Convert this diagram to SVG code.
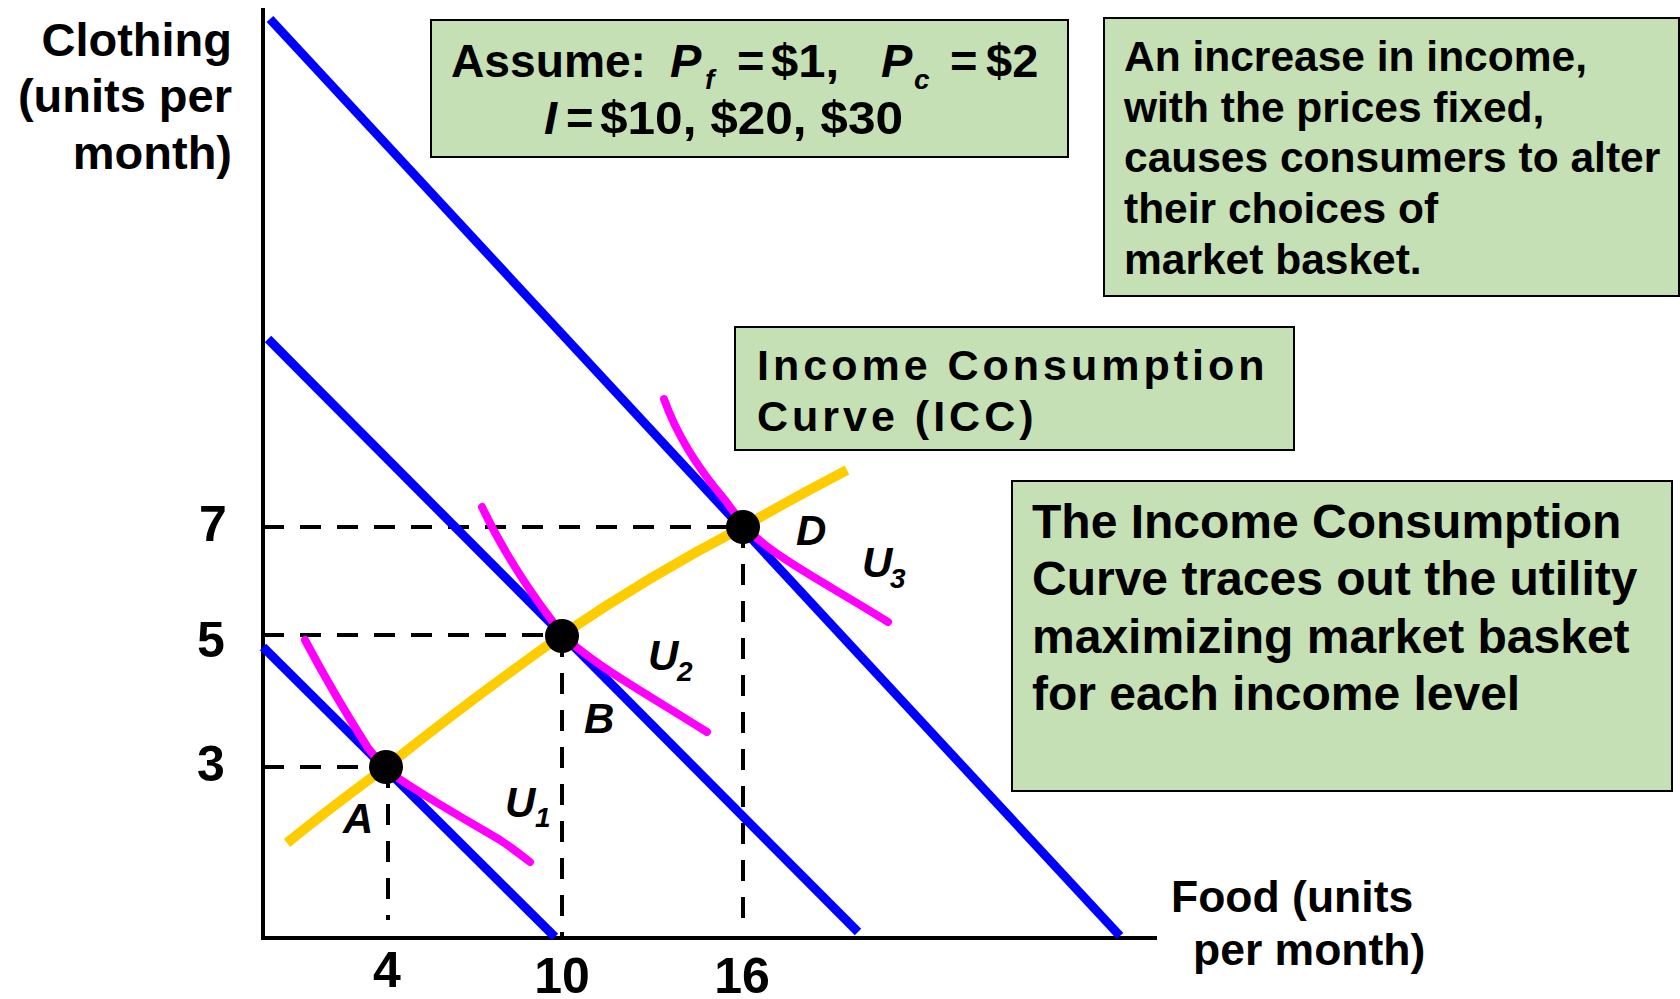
<svg xmlns="http://www.w3.org/2000/svg" width="1680" height="999" viewBox="0 0 1680 999">
<style>
text{font-family:"Liberation Sans",Arial,sans-serif;font-weight:bold;fill:#000}
.box{fill:#C5E0B4;stroke:#000;stroke-width:2}
.axis{stroke:#000;stroke-width:4;fill:none}
.dash{stroke:#000;stroke-width:4;stroke-dasharray:21 16;fill:none}
.budget{stroke:#0000FF;stroke-width:9;fill:none}
.icc{stroke:#FFCC00;stroke-width:10;fill:none;stroke-linecap:butt}
.indiff{stroke:#FF00FF;stroke-width:8;fill:none;stroke-linecap:round;stroke-linejoin:round}
.pt{fill:#000}
.it{font-style:italic}
.ax{font-size:47px}
.tick{font-size:50px}
.lbl{font-size:42px;font-style:italic}
.sub{font-size:28px;font-style:italic}
</style>

<g id="assume-box">
<rect class="box" x="431" y="20" width="637" height="137"/>
<text x="451" y="77" font-size="47" textLength="195" lengthAdjust="spacingAndGlyphs">Assume:</text>
<text x="670" y="77" font-size="47" class="it">P</text>
<text x="705" y="89" font-size="28" class="it">f</text>
<text x="737" y="77" font-size="47">=</text>
<text x="771" y="77" font-size="47" textLength="68" lengthAdjust="spacingAndGlyphs">$1,</text>
<text x="881" y="77" font-size="47" class="it">P</text>
<text x="914" y="89" font-size="28" class="it">c</text>
<text x="950" y="77" font-size="47">=</text>
<text x="986" y="77" font-size="47">$2</text>
<text x="544" y="134" font-size="47" class="it">I</text>
<text x="566" y="134" font-size="47">=</text>
<text x="600" y="134" font-size="47" textLength="303" lengthAdjust="spacingAndGlyphs">$10, $20, $30</text>
</g>

<g id="income-box">
<rect class="box" x="1104" y="18" width="575" height="278"/>
<text font-size="42.5"><tspan x="1124" y="71">An increase in income,</tspan><tspan x="1124" y="122">with the prices fixed,</tspan><tspan x="1124" y="172">causes consumers to alter</tspan><tspan x="1124" y="223">their choices of</tspan><tspan x="1124" y="274">market basket.</tspan></text>
</g>

<g id="icc-box">
<rect class="box" x="735" y="327" width="559" height="123"/>
<text font-size="43" letter-spacing="4"><tspan x="757" y="380">Income Consumption</tspan><tspan x="757" y="431">Curve (ICC)</tspan></text>
</g>

<g id="trace-box">
<rect class="box" x="1012" y="481" width="660" height="310"/>
<text font-size="48"><tspan x="1032" y="538">The Income Consumption</tspan><tspan x="1032" y="595">Curve traces out the utility</tspan><tspan x="1032" y="653">maximizing market basket</tspan><tspan x="1032" y="710">for each income level</tspan></text>
</g>

<g id="axes">
<line class="axis" x1="263" y1="8" x2="263" y2="940"/>
<line class="axis" x1="261" y1="938" x2="1157" y2="938"/>
<text class="ax" text-anchor="end"><tspan x="232" y="56">Clothing</tspan><tspan x="232" y="112">(units per</tspan><tspan x="232" y="169">month)</tspan></text>
<text style="font-size:44.5px"><tspan x="1171" y="912">Food (units</tspan><tspan x="1193" y="965">per month)</tspan></text>
<text class="tick" text-anchor="middle" x="213" y="541">7</text>
<text class="tick" text-anchor="middle" x="211" y="657">5</text>
<text class="tick" text-anchor="middle" x="211" y="781">3</text>
<text class="tick" text-anchor="middle" x="387" y="987">4</text>
<text class="tick" text-anchor="middle" x="562" y="993">10</text>
<text class="tick" text-anchor="middle" x="742" y="993">16</text>
</g>

<g id="guides">
<line class="dash" x1="263" y1="527" x2="743" y2="527"/>
<line class="dash" x1="263" y1="635" x2="562" y2="635"/>
<line class="dash" x1="263" y1="767" x2="386" y2="767"/>
<line class="dash" x1="388" y1="767" x2="388" y2="920"/>
<line class="dash" x1="562" y1="636" x2="562" y2="940"/>
<line class="dash" x1="743" y1="527" x2="743" y2="928"/>
</g>

<g id="connectors">
<line class="budget" x1="263" y1="647" x2="555" y2="937"/>
<line class="budget" x1="268" y1="339" x2="858" y2="932"/>
<line class="budget" x1="270" y1="19" x2="1120" y2="936"/>
<path class="icc" d="M287,843 Q330,808 386,767 Q470,700 562,635 Q650,575 743,527 Q795,497 847,470"/>
<path class="indiff" d="M305,640 C322,672 345,712 368,748 Q380,764 395,776 C430,800 470,822 500,840 Q515,850 530,862"/>
<path class="indiff" d="M482,507 C500,545 525,585 553,622 Q560,632 568,640 C600,668 640,690 707,732"/>
<path class="indiff" d="M664,399 C675,430 695,465 725,500 Q735,514 750,532 C780,560 820,580 888,622"/>
</g>

<g id="point-A">
<circle class="pt" cx="386" cy="767" r="17"/>
<text class="lbl" x="343" y="833">A</text>
<text class="lbl" x="505" y="817">U</text><text class="sub" x="535" y="827">1</text>
</g>
<g id="point-B">
<circle class="pt" cx="562" cy="636" r="17"/>
<text class="lbl" x="584" y="733">B</text>
<text class="lbl" x="648" y="670">U</text><text class="sub" x="677" y="681">2</text>
</g>
<g id="point-D">
<circle class="pt" cx="743" cy="527" r="17"/>
<text class="lbl" x="796" y="545">D</text>
<text class="lbl" x="862" y="577">U</text><text class="sub" x="890" y="588">3</text>
</g>
</svg>
